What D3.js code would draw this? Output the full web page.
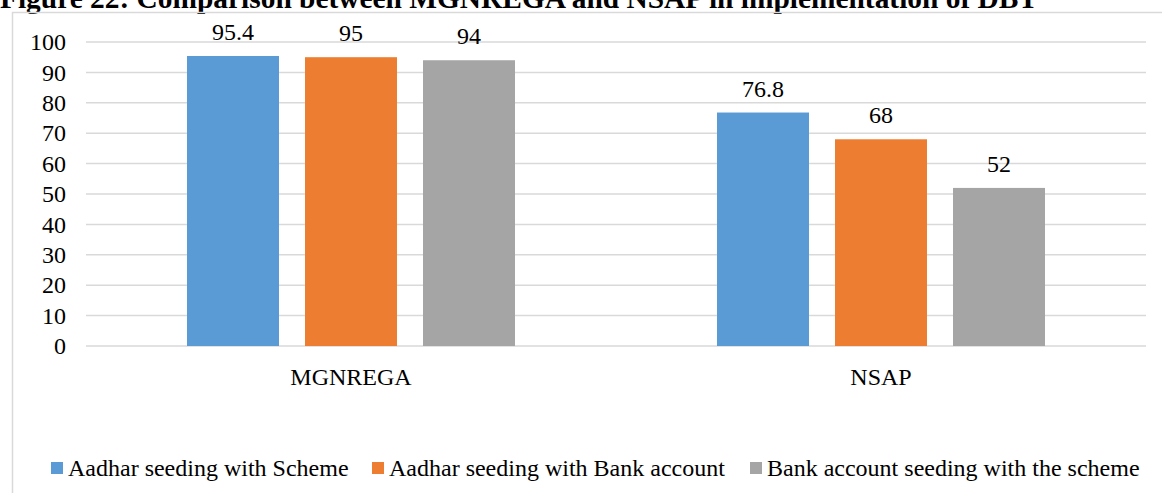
<!DOCTYPE html>
<html>
<head>
<meta charset="UTF-8">
<title>MGNREGA vs NSAP</title>
<style>
    body { margin: 0; padding: 0; background: #fff; overflow: hidden; font-family: "Liberation Serif", serif; }
    svg text { font-family: "Liberation Serif", "Times New Roman", serif !important; fill: #000; }
</style>
</head>
<body>
<div id="chart"></div>
<script src="https://cdn.jsdelivr.net/npm/d3@7"></script>
<script>
    const categories = ['MGNREGA', 'NSAP'];
    const seriesNames = ['Aadhar seeding with Scheme', 'Aadhar seeding with Bank account', 'Bank account seeding with the scheme'];
    const aadharScheme = [95.4, 76.8];
    const aadharBank = [95, 68];
    const bankScheme = [94, 52];
    const yTicks = [0, 10, 20, 30, 40, 50, 60, 70, 80, 90, 100];
    const colors = ['#5b9bd5', '#ed7d31', '#a5a5a5'];

    const w = 1162, h = 493;
    const plotLeft = 86, plotRight = 1146, plotTop = 42, plotBottom = 346;
    const serif = '"Liberation Serif", "Times New Roman", serif';
    const fs = '24px';

    const series = [aadharScheme, aadharBank, bankScheme];

    const svg = d3.select('#chart').append('svg')
        .attr('width', w).attr('height', h)
        .attr('font-family', serif);

    // title (cut off at the top in the source)
    svg.append('text')
        .attr('x', 0).attr('y', 8)
        .style('font-weight', 'bold').style('font-size', '29.4px')
        .text('Figure 22: Comparison between MGNREGA and NSAP in implementation of DBT');

    // chart frame
    svg.append('rect')
        .attr('x', 12.5).attr('y', 12.5)
        .attr('width', 1200).attr('height', 600)
        .attr('fill', 'none').attr('stroke', '#d9d9d9').attr('stroke-width', 1.5);

    const y = d3.scaleLinear().domain([0, 100]).range([plotBottom, plotTop]);
    const x0 = d3.scaleBand().domain(categories).range([plotLeft, plotRight]);
    const x1 = d3.scaleBand().domain(d3.range(series.length))
        .range([101, x0.bandwidth() - 101]).paddingInner(26 / 118);

    // grid
    svg.append('g').selectAll('line')
        .data(yTicks).enter().append('line')
        .attr('x1', plotLeft).attr('x2', plotRight)
        .attr('y1', d => y(d)).attr('y2', d => y(d))
        .attr('stroke', '#d9d9d9').attr('stroke-width', 1.5);

    const yAxis = d3.axisLeft(y).tickValues(yTicks).tickSize(0).tickPadding(0);
    svg.append('g')
        .attr('transform', 'translate(66,0)')
        .call(yAxis)
        .attr('font-family', serif)
        .call(g => g.select('.domain').remove())
        .selectAll('text')
        .style('font-size', fs);

    // bars
    const groups = svg.append('g').selectAll('g')
        .data(categories).enter().append('g')
        .attr('transform', d => 'translate(' + x0(d) + ',0)');

    groups.selectAll('rect')
        .data((d, ci) => series.map((s, si) => ({ si, v: s[ci] })))
        .enter().append('rect')
        .attr('x', d => x1(d.si))
        .attr('width', x1.bandwidth())
        .attr('y', d => y(d.v))
        .attr('height', d => plotBottom - y(d.v))
        .attr('fill', d => colors[d.si]);

    groups.selectAll('text.val')
        .data((d, ci) => series.map((s, si) => ({ si, v: s[ci] })))
        .enter().append('text')
        .attr('class', 'val')
        .attr('x', d => x1(d.si) + x1.bandwidth() / 2)
        .attr('y', d => y(d.v) - 16)
        .attr('text-anchor', 'middle')
        .style('font-size', fs)
        .text(d => d.v);

    // category axis
    svg.append('g').selectAll('text')
        .data(categories).enter().append('text')
        .attr('x', d => x0(d) + x0.bandwidth() / 2)
        .attr('y', 385)
        .attr('text-anchor', 'middle')
        .style('font-size', fs)
        .text(d => d);

    // legend
    const legendX = [51, 372, 750];
    const legend = svg.append('g').selectAll('g')
        .data(seriesNames).enter().append('g')
        .attr('transform', (d, i) => 'translate(' + legendX[i] + ',462)');
    legend.append('rect')
        .attr('width', 12).attr('height', 12)
        .attr('fill', (d, i) => colors[i]);
    legend.append('text')
        .attr('x', 17).attr('y', 14)
        .style('font-size', fs)
        .text(d => d);
</script>
</body>
</html>
